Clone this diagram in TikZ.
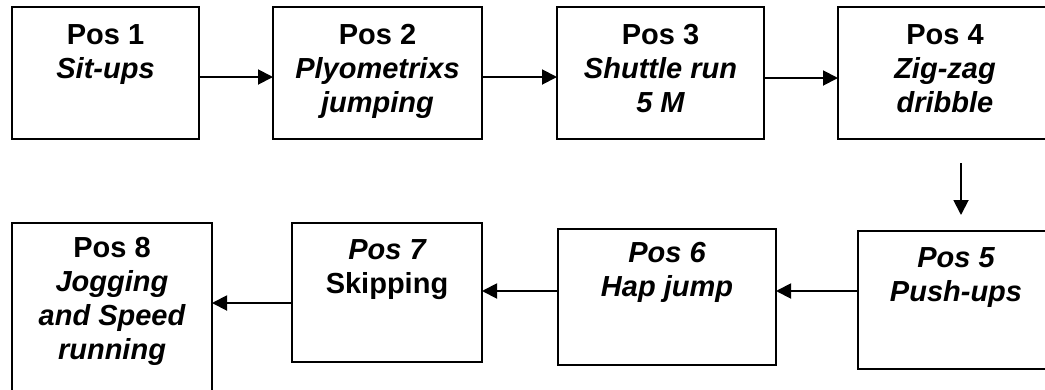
\documentclass[tikz,border=0pt]{standalone}
\usepackage{fontspec}
\setmainfont{Liberation Sans}
\usetikzlibrary{arrows.meta}
\tikzset{
  box/.style={draw=black, line width=1.9pt, rectangle, inner sep=0pt, outer sep=0pt},
  txt/.style={anchor=north, inner sep=0pt, align=center,
    font=\fontsize{29}{34}\selectfont\bfseries},
  conn/.style={line width=1.9pt, -{Triangle[length=15pt,width=15pt]}}
}
\begin{document}
\begin{tikzpicture}[x=1pt,y=-1pt]
\useasboundingbox (0,0) rectangle (1045,389);
\clip (0,0) rectangle (1045,389);
% boxes (pixel coordinates, y downwards)
\node[box, minimum width=187, minimum height=132] (b1) at (105.5,73) {};
\node[box, minimum width=209, minimum height=132] (b2) at (377.5,73) {};
\node[box, minimum width=207, minimum height=132] (b3) at (660.5,73) {};
\node[box, minimum width=214, minimum height=132] (b4) at (945,73) {};
\node[box, minimum width=196, minimum height=138] (b5) at (956,300) {};
\node[box, minimum width=218, minimum height=136] (b6) at (667,297) {};
\node[box, minimum width=190, minimum height=139] (b7) at (387,292.5) {};
\node[box, minimum width=200, minimum height=180] (b8) at (112,313) {};
% texts
\node[txt] (t1) at ([yshift=-17pt]b1.north) {Pos 1\\\itshape Sit-ups};
\node[txt] (t2) at ([yshift=-17pt]b2.north) {Pos 2\\\itshape Plyometrixs\\\itshape jumping};
\node[txt] (t3) at ([yshift=-17pt]b3.north) {Pos 3\\\itshape Shuttle run\\\itshape 5 M};
\node[txt] (t4) at ([yshift=-17pt]b4.north) {Pos 4\\\itshape Zig-zag\\\itshape dribble};
\node[txt] (t5) at ([yshift=-16pt]b5.north) {\itshape Pos 5\\\itshape Push-ups};
\node[txt] (t6) at ([yshift=-13pt]b6.north) {\itshape Pos 6\\\itshape Hap jump};
\node[txt] (t7) at ([yshift=-16pt]b7.north) {\itshape Pos 7\\Skipping};
\node[txt] (t8) at ([yshift=-14pt]b8.north) {Pos 8\\\itshape Jogging\\\itshape and Speed\\\itshape running};
% connectors
\draw[conn] (b1.east |- 0,77) -- (b2.west |- 0,77);
\draw[conn] (b2.east |- 0,77) -- (b3.west |- 0,77);
\draw[conn] (b3.east |- 0,78) -- (b4.west |- 0,78);
\coordinate (dx) at (961,0);
\draw[conn, shorten <=24pt, shorten >=16pt] (b4.south -| dx) -- (b5.north -| dx);
\draw[conn] (b5.west |- 0,291) -- (b6.east |- 0,291);
\draw[conn] (b6.west |- 0,291) -- (b7.east |- 0,291);
\draw[conn] (b7.west |- 0,303) -- (b8.east |- 0,303);
\end{tikzpicture}
\end{document}
